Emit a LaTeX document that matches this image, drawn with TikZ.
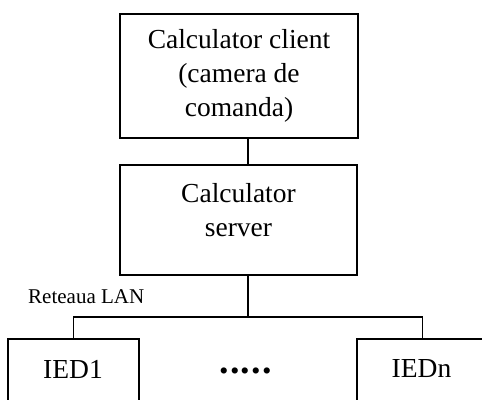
\documentclass[tikz,border=0pt]{standalone}
\usepackage{fontspec}
\setmainfont{Liberation Serif}
\begin{document}
\begin{tikzpicture}[x=1pt,y=-1pt,
  boxline/.style={draw=black,line width=1.7pt},
  box/.style={boxline,rectangle,inner sep=0pt},
  bigtext/.style={font=\fontsize{27.5}{34}\selectfont,align=center,inner sep=0pt},
  smalltext/.style={font=\fontsize{21}{25}\selectfont,inner sep=0pt},
  wire/.style={line width=1.7pt}]
\useasboundingbox (0,0) rectangle (482,399);
\clip (0,0) rectangle (482,399);
\node[box,bigtext,minimum width=238pt,minimum height=124pt] (client) at (239,76)
  {Calculator client\\(camera de\\comanda)};
\node[box,minimum width=237pt,minimum height=110pt] (server) at (238.5,220) {};
\node[bigtext] (servertxt) at (238.5,210.5) {Calculator\\server};
\node[box,minimum width=131pt,minimum height=82pt] (ied1) at (73.5,380) {};
\node[bigtext] (ied1txt) at (73,369) {IED1};
\node[box,minimum width=131pt,minimum height=82pt] (iedn) at (422.5,380) {};
\node[bigtext] (iedntxt) at (421.5,369) {IEDn};
\node[bigtext,font=\fontsize{38}{40}\selectfont\bfseries] (dots) at (245.5,371)
  {.\kern1.2pt.\kern1.2pt.\kern1.2pt.\kern1.2pt.};
\node[smalltext,anchor=base west] (lan) at (28,303) {Reteaua LAN};
\coordinate (bus) at (248,317);
\draw[wire] ([xshift=9pt]client.south) -- ([xshift=9.5pt]server.north);
\draw[wire] ([xshift=9.5pt]server.south) -- (bus);
\draw[wire] (ied1.north) |- (bus) -| (iedn.north);
\end{tikzpicture}
\end{document}
